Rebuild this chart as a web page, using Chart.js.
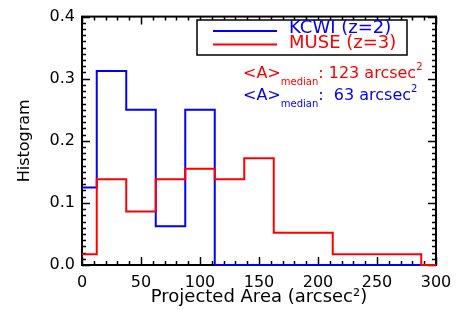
<!DOCTYPE html>
<html>
<head>
<meta charset="utf-8">
<script src="https://cdn.jsdelivr.net/npm/chart.js@4/dist/chart.umd.min.js"></script>
<style>
  html, body { margin: 0; padding: 0; background: #fff; }
</style>
</head>
<body>
<canvas id="chart" width="456" height="310"></canvas>
<script>
// histogram bin edges (arcsec^2) and normalised counts per bin
const binEdges = [0, 12.5, 37.5, 62.5, 87.5, 112.5, 137.5, 162.5, 187.5, 212.5, 237.5, 262.5, 287.5, 300];
const kcwiHist = [0.125, 0.3125, 0.25, 0.0625, 0.25, 0, 0, 0, 0, 0, 0, 0, 0];
const museHist = [0.0172, 0.138, 0.086, 0.138, 0.155, 0.138, 0.172, 0.052, 0.052, 0.0172, 0.0172, 0.0172, 0];
const xTicks = [0, 50, 100, 150, 200, 250, 300];
const yTicks = [0, 0.1, 0.2, 0.3, 0.4];
const seriesNames = ['KCWI (z=2)', 'MUSE (z=3)'];
const seriesColors = ['#0000ff', '#ff0000'];
const medianAreas = [63, 123]; // KCWI, MUSE
const FONT = '"DejaVu Sans", sans-serif';

// turn a histogram into step points (value holds until next edge)
function stepPoints(edges, vals) {
  const pts = vals.map((v, i) => ({ x: edges[i], y: v }));
  pts.push({ x: edges[edges.length - 1], y: vals[vals.length - 1] });
  return pts;
}

// IDL-style box with inward ticks on all four sides
const frameTicks = {
  id: 'frameTicks',
  beforeDatasetsDraw(chart) {
    const { ctx, chartArea: a, scales: { x, y } } = chart;
    ctx.save();
    ctx.strokeStyle = '#000';
    ctx.lineWidth = 1.5;
    ctx.beginPath();
    for (let v = xTicks[0]; v <= xTicks[xTicks.length - 1]; v += 10) {
      const px = Math.round(x.getPixelForValue(v)) + 0.5;
      const len = xTicks.includes(v) ? 8 : 4;
      ctx.moveTo(px, a.bottom); ctx.lineTo(px, a.bottom - len);
      ctx.moveTo(px, a.top); ctx.lineTo(px, a.top + len);
    }
    for (let i = 0; i <= 40; i++) {
      const py = Math.round(y.getPixelForValue(i / 100)) + 0.5;
      const len = i % 10 === 0 ? 8 : 4;
      ctx.moveTo(a.left, py); ctx.lineTo(a.left + len, py);
      ctx.moveTo(a.right, py); ctx.lineTo(a.right - len, py);
    }
    ctx.stroke();
    ctx.lineWidth = 2;
    ctx.strokeRect(a.left, a.top, a.right - a.left, a.bottom - a.top);
    ctx.restore();
  }
};

// text with sub/superscripts: parts = [text, size, dy]
function drawRich(ctx, parts, x, y, color) {
  ctx.fillStyle = color;
  ctx.textBaseline = 'alphabetic';
  ctx.textAlign = 'left';
  for (const [t, size, dy] of parts) {
    ctx.font = size + 'px ' + FONT;
    ctx.fillText(t, x, y + dy);
    x += ctx.measureText(t).width;
  }
}

const legendNotes = {
  id: 'legendNotes',
  afterDraw(chart) {
    const { ctx } = chart;
    ctx.save();
    // legend box
    ctx.fillStyle = '#fff';
    ctx.fillRect(197, 20, 210, 35);
    ctx.strokeStyle = '#000';
    ctx.lineWidth = 1.5;
    ctx.strokeRect(197, 20, 210, 35);
    seriesNames.forEach((name, i) => {
      const ly = 31 + i * 13.5;
      ctx.strokeStyle = seriesColors[i];
      ctx.lineWidth = 2;
      ctx.beginPath();
      ctx.moveTo(213, ly); ctx.lineTo(277, ly);
      ctx.stroke();
      ctx.fillStyle = seriesColors[i];
      ctx.font = '18px ' + FONT;
      ctx.textBaseline = 'alphabetic';
      ctx.fillText(name, 289, 32.5 + i * 15.5);
    });
    // median annotations
    drawRich(ctx, [['<A>', 16, 0], ['median', 10, 7], [': ' + medianAreas[1] + ' arcsec', 16, 0], ['2', 10, -8]], 243, 78, seriesColors[1]);
    drawRich(ctx, [['<A>', 16, 0], ['median', 10, 7], [':  ' + medianAreas[0] + ' arcsec', 16, 0], ['2', 10, -8]], 243, 100, seriesColors[0]);
    ctx.restore();
  }
};

// MUSE listed first so Chart.js paints it on top of KCWI
new Chart(document.getElementById('chart'), {
  type: 'line',
  data: {
    datasets: [
      { label: seriesNames[1], data: stepPoints(binEdges, museHist), borderColor: seriesColors[1] },
      { label: seriesNames[0], data: stepPoints(binEdges, kcwiHist), borderColor: seriesColors[0] }
    ].map(d => Object.assign(d, { stepped: 'before', borderWidth: 2, pointRadius: 0, fill: false, clip: 3 }))
  },
  options: {
    responsive: false,
    animation: false,
    devicePixelRatio: 1,
    layout: { padding: { top: 11, right: 20, left: 0, bottom: 0 } },
    plugins: { legend: { display: false }, tooltip: { enabled: false } },
    scales: {
      x: {
        type: 'linear', min: 0, max: 300,
        grid: { display: false, drawTicks: false }, border: { display: false },
        afterBuildTicks: s => { s.ticks = xTicks.map(v => ({ value: v })); },
        afterFit: s => { s.height = 45; s.paddingLeft = 0; s.paddingRight = 0; },
        ticks: { color: '#000', font: { family: FONT, size: 16 }, padding: 8, maxRotation: 0 },
        title: { display: true, text: 'Projected Area (arcsec²)', color: '#000', font: { family: FONT, size: 18 }, padding: { top: 0, bottom: 2 } }
      },
      y: {
        min: 0, max: 0.4,
        grid: { display: false, drawTicks: false }, border: { display: false },
        afterBuildTicks: s => { s.ticks = yTicks.map(v => ({ value: v })); },
        afterFit: s => { s.width = 82; },
        ticks: { color: '#000', font: { family: FONT, size: 16 }, padding: 7, callback: v => v.toFixed(1) },
        title: { display: true, text: 'Histogram', color: '#000', font: { family: FONT, size: 16 }, padding: { top: 15, bottom: 0 } }
      }
    }
  },
  plugins: [frameTicks, legendNotes]
});
</script>
</body>
</html>
